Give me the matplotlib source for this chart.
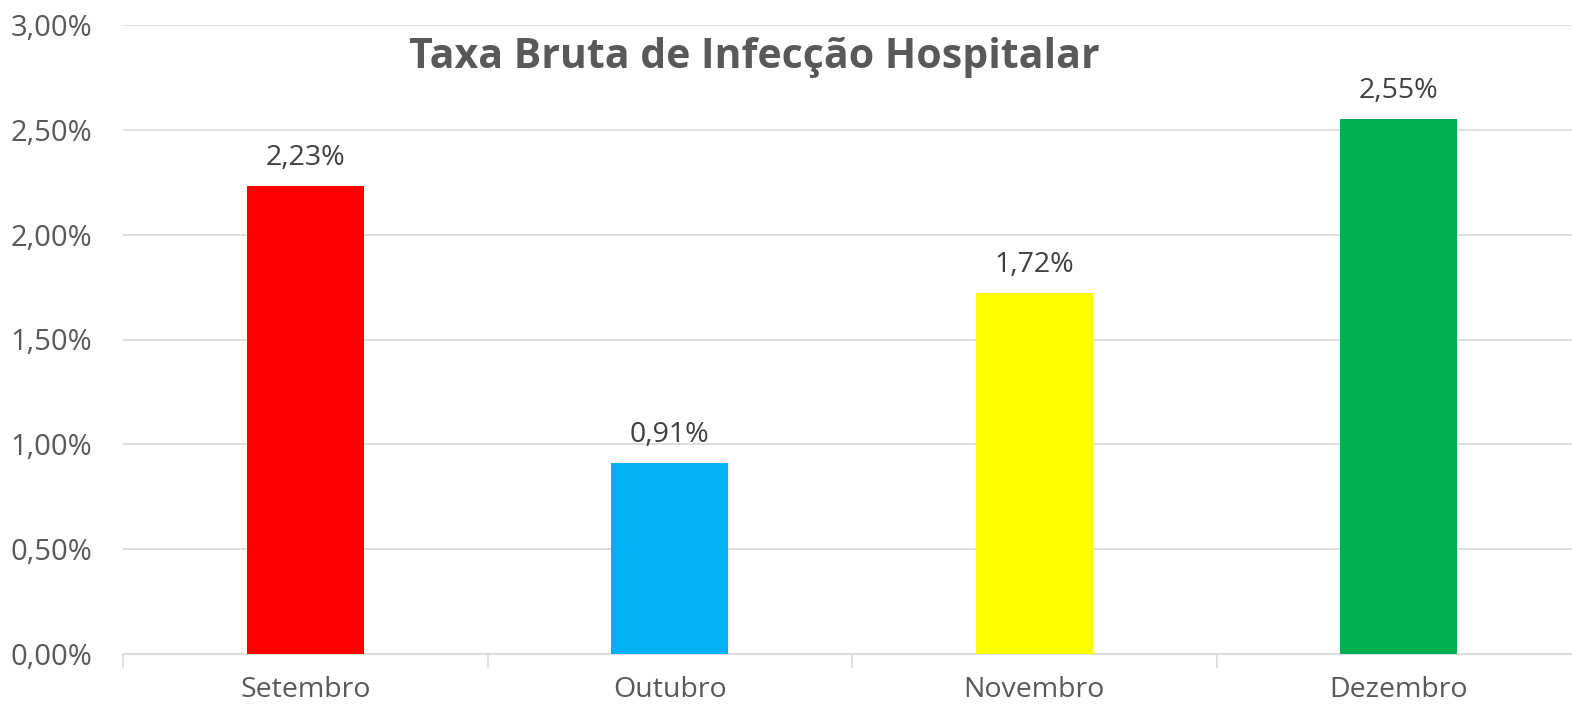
import matplotlib
matplotlib.use("Agg")
import matplotlib.pyplot as plt
from matplotlib.ticker import FuncFormatter, MultipleLocator

plt.rcParams['font.family'] = ['Open Sans', 'DejaVu Sans']

meses = ["Setembro", "Outubro", "Novembro", "Dezembro"]
taxas = [2.23, 0.91, 1.72, 2.55]
cores = ["#FF0000", "#00B0F0", "#FFFF00", "#00B050"]
titulo = "Taxa Bruta de Infecção Hospitalar"

fig = plt.figure(figsize=(15.72, 7.07), dpi=100)
# the right side of the plot area runs past the picture edge
ax = fig.add_axes([123 / 1572, 1 - 654 / 707, 1458 / 1572, 629 / 707])

x = list(range(len(meses)))
ax.bar(x, taxas, width=0.32, color=cores, zorder=3)

for i, v in enumerate(taxas):
    ax.annotate(("%.2f" % v).replace(".", ",") + "%", (i, v),
                xytext=(0, 14), textcoords="offset pixels",
                ha="center", va="bottom", fontsize=20.5, color="#404040")

ax.set_xlim(-0.5, 3.5)
ax.set_ylim(0, 3.0)
ax.yaxis.set_major_locator(MultipleLocator(0.5))
ax.yaxis.set_major_formatter(FuncFormatter(lambda v, p: ("%.2f" % v).replace(".", ",") + "%"))
ax.grid(axis="y", color="#D9D9D9", linewidth=1.2, zorder=0)

ax.set_xticks(x)
ax.set_xticklabels(meses)
ax.set_xticks([-0.5, 0.5, 1.5, 2.5, 3.5], minor=True)
ax.tick_params(axis="x", which="major", length=0, pad=16, labelsize=20.5, labelcolor="#595959")
ax.tick_params(axis="x", which="minor", length=10, color="#D9D9D9", width=1.2)
ax.tick_params(axis="y", length=0, pad=22, labelsize=21, labelcolor="#595959")

for s in ["top", "right", "left"]:
    ax.spines[s].set_visible(False)
ax.spines["bottom"].set_color("#D9D9D9")
ax.spines["bottom"].set_linewidth(1.2)

fig.text(754 / 1572, 1 - 58 / 707, titulo, ha="center", va="center",
         fontsize=29.5, fontweight="bold", color="#595959")

fig.savefig("out.png", dpi=100)
